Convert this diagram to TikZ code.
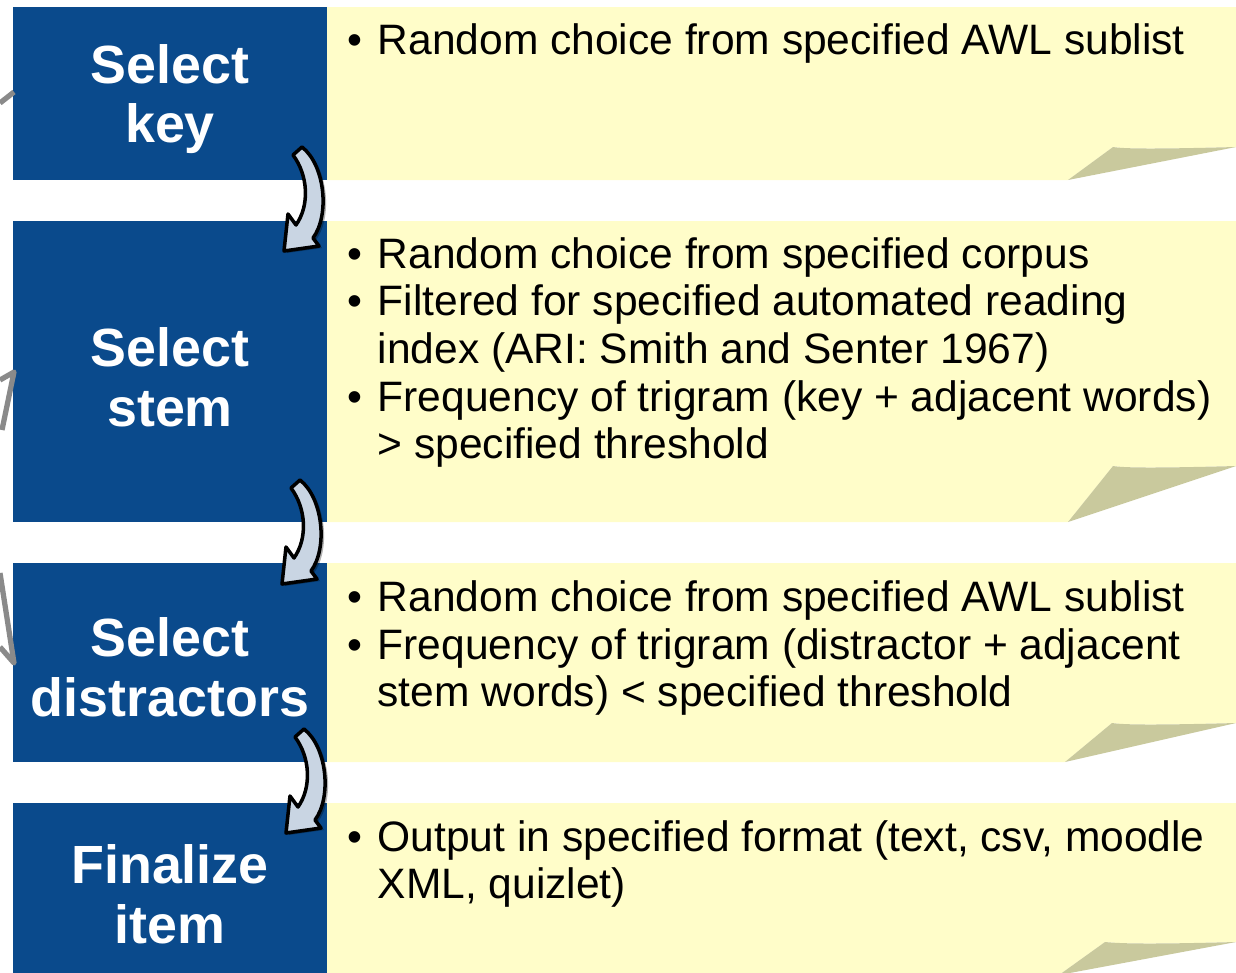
\documentclass[tikz,border=0pt]{standalone}
\usepackage{fontspec}
\setmainfont{Liberation Sans}

\definecolor{stepblue}{HTML}{0A4A8C}
\definecolor{notefill}{HTML}{FFFDC9}
\definecolor{foldfill}{HTML}{C9C99D}
\definecolor{turnfill}{HTML}{C9D5E3}
\definecolor{loopgray}{HTML}{8A8A8A}

\newcommand{\itembullet}{\llap{\textbullet\kern0.15cm}}

\tikzset{
	steptext/.style={text=white, font=\bfseries\fontsize{15.3}{17}\selectfont, align=center},
	itemtext/.style={anchor=base west, inner sep=0pt, font=\fontsize{12.1}{13.4}\selectfont},
	turnbody/.style={fill=turnfill, draw=black, line width=1pt, line join=round},
	loopline/.style={draw=loopgray, line width=1.5pt, line join=round},
	bendarrow/.pic={
		\fill[black, opacity=0.3, shift={(3,2)}] (2,-3) .. controls (25,15) and (30,65) .. (13,88) -- (19,96) -- (-16,101) -- (-12,64) -- (-4,75) .. controls (10,55) and (8,25) .. (-7,5) -- cycle;
		\draw[turnbody] (2,-3) .. controls (25,15) and (30,65) .. (13,88) -- (19,96) -- (-16,101) -- (-12,64) -- (-4,75) .. controls (10,55) and (8,25) .. (-7,5) -- cycle;
	}
}

\begin{document}
\begin{tikzpicture}[x=0.01cm, y=-0.01cm]
	\useasboundingbox (0,0) rectangle (1236,972);
	
	% rows: blue step box and note with turned corner
	\foreach \top/\bot/\peak/\fx/\px in {7/180/147/1068/1113, 221/522/466/1068/1113, 563/762/723/1065/1112, 803/975/942/1059/1105} {
		\fill[stepblue] (13,\top) rectangle (327,\bot);
		\fill[notefill] (327,\top) -- (1236,\top) -- (1236,\peak) .. controls (1160,\peak+2) and (1125,\peak+2) .. (\px,\peak) -- (\fx,\bot) -- (327,\bot) -- cycle;
		\fill[foldfill] (\fx,\bot) -- (\px,\peak) .. controls (1125,\peak+2) and (1160,\peak+2) .. (1236,\peak) -- cycle;
	}
	
	% loop arrow pieces at the left edge
	\draw[loopline] (0,103) -- (14,92);
	\draw[loopline] (0,380) -- (14,372) -- (2,430);
	\draw[loopline] (0,573) -- (14,663) -- (0,647);
	
	% step labels
	\node[steptext] (key) at (170,99) {Select\\key};
	\node[steptext] (stem) at (170,377) {Select\\stem};
	\node[steptext] (distr) at (170,667) {Select\\distractors};
	\node[steptext] (final) at (170,894) {Finalize\\item};
	
	% turn arrows between steps
	\pic at (300,150) {bendarrow};
	\pic at (298,483) {bendarrow};
	\pic at (302,732) {bendarrow};
	
	% notes
	\node[itemtext] (keyA) at (377,54) {\itembullet Random choice from specified AWL sublist};
	
	\node[itemtext] (stemA) at (377,268) {\itembullet Random choice from specified corpus};
	\node[itemtext] (stemB) at (377,315) {\itembullet Filtered for specified automated reading};
	\node[itemtext] (stemC) at (377,363) {index (ARI: Smith and Senter 1967)};
	\node[itemtext] (stemD) at (377,411) {\itembullet Frequency of trigram (key + adjacent words)};
	\node[itemtext] (stemE) at (377,458) {> specified threshold};
	
	\node[itemtext] (distrA) at (377,611) {\itembullet Random choice from specified AWL sublist};
	\node[itemtext] (distrB) at (377,659) {\itembullet Frequency of trigram (distractor + adjacent};
	\node[itemtext] (distrC) at (377,706) {stem words) < specified threshold};
	
	\node[itemtext] (finalA) at (377,851) {\itembullet Output in specified format (text, csv, moodle};
	\node[itemtext] (finalB) at (377,898) {XML, quizlet)};
\end{tikzpicture}
\end{document}
